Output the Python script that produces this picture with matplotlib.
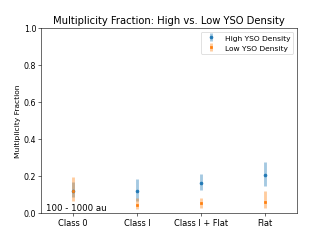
import numpy as np
import matplotlib
matplotlib.use('Agg')
import matplotlib.pyplot as plt

classes = ['Class 0', 'Class I', 'Class I + Flat', 'Flat']

high_mf = [0.118, 0.118, 0.162, 0.202]
high_lo = [0.082, 0.065, 0.124, 0.142]
high_hi = [0.164, 0.182, 0.209, 0.273]

low_mf = [0.118, 0.042, 0.051, 0.060]
low_lo = [0.063, 0.018, 0.027, 0.023]
low_hi = [0.190, 0.078, 0.078, 0.116]


def asym_err(mid, lo, hi):
    mid = np.array(mid)
    return [mid - np.array(lo), np.array(hi) - mid]


fig = plt.figure(figsize=(6.4, 4.654), dpi=330 / 6.4)
ax = fig.add_subplot(111)
x = np.arange(len(classes))

ax.errorbar(x, high_mf, yerr=asym_err(high_mf, high_lo, high_hi), fmt='o',
            ms=4, elinewidth=4, color='C0', ecolor=(0.12, 0.47, 0.71, 0.4),
            label='High YSO Density')
ax.errorbar(x, low_mf, yerr=asym_err(low_mf, low_lo, low_hi), fmt='s',
            ms=4, elinewidth=4, color='C1', ecolor=(1.0, 0.5, 0.05, 0.4),
            label='Low YSO Density')

ax.set_xticks(x)
ax.set_xticklabels(classes, fontsize=11.5)
ax.tick_params(axis='y', labelsize=11)
ax.set_xlim(-0.5, 3.5)
ax.set_ylim(0, 1)
ax.set_ylabel('Multiplicity Fraction', fontsize=10.5)
ax.set_title('Multiplicity Fraction: High vs. Low YSO Density', fontsize=14)
ax.text(0.02, 0.005, '100 - 1000 au', transform=ax.transAxes, fontsize=12,
        ha='left', va='bottom')
ax.legend(loc='upper right', fontsize=10.5)

fig.savefig('out.png')
